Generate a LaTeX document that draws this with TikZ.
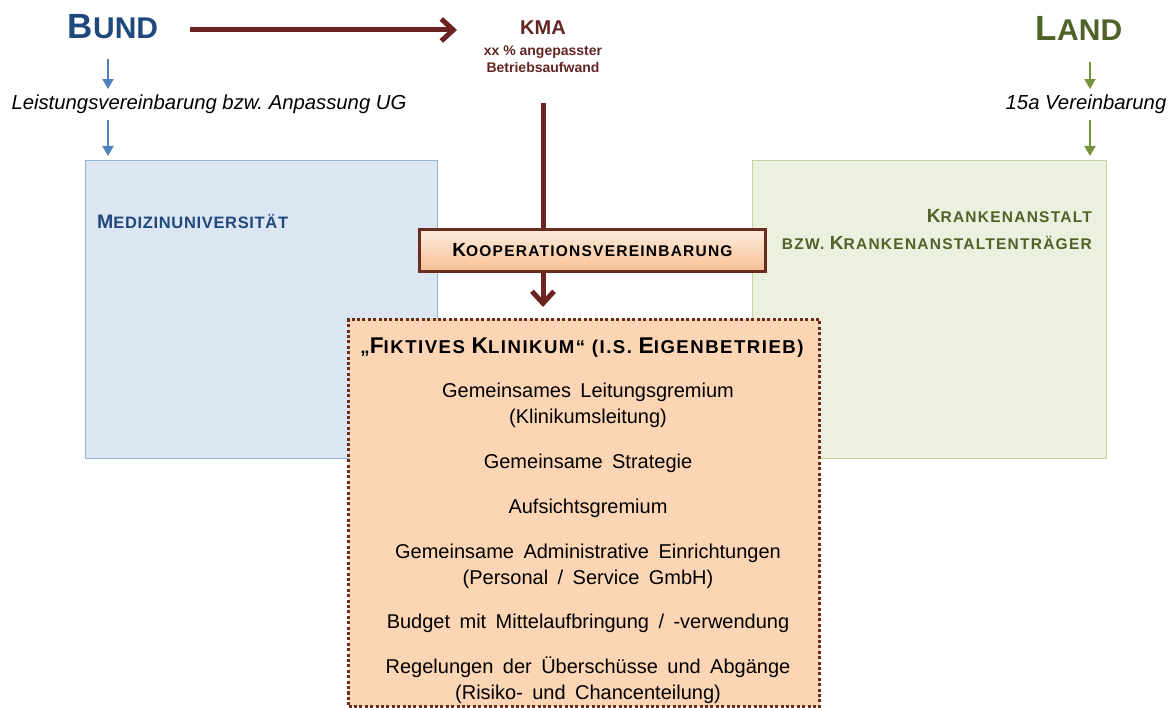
\documentclass[tikz,border=0pt]{standalone}
\usepackage{fontspec}
\setmainfont{Liberation Sans}
\newfontfamily\scf[LetterSpace=8]{Liberation Sans}
\newfontfamily\scfb[LetterSpace=4]{Liberation Sans}
\newfontfamily\itemfont[WordSpace=1.7]{Liberation Sans}
\usetikzlibrary{arrows.meta}
\definecolor{bundblue}{RGB}{31,73,125}
\definecolor{arrowblue}{RGB}{79,129,189}
\definecolor{landgreen}{RGB}{79,98,40}
\definecolor{arrowgreen}{RGB}{118,146,60}
\definecolor{kmared}{RGB}{99,37,35}
\definecolor{maroon}{RGB}{110,35,35}
\definecolor{bluefill}{RGB}{220,230,242}
\definecolor{blueborder}{RGB}{149,179,215}
\definecolor{greenfill}{RGB}{235,241,222}
\definecolor{greenborder}{RGB}{195,214,155}
\definecolor{peach}{RGB}{252,213,181}
\definecolor{peachlight}{RGB}{253,236,222}
\definecolor{peachdark}{RGB}{247,192,146}
\definecolor{brownborder}{RGB}{105,45,32}
\newcommand\Fs[2]{{\fontsize{#1}{#1}\selectfont #2}}
\frenchspacing
\begin{document}
\begin{tikzpicture}[x=1pt,y=-1pt,
  bigarrow/.style={draw=maroon,line width=5pt,-{Straight Barb[length=12pt,width=22pt,line width=5pt]}},
  bigline/.style={draw=maroon,line width=5pt},
  bluearrow/.style={draw=arrowblue,line width=1.8pt,-{Triangle[length=10pt,width=11pt]}},
  greenarrow/.style={draw=arrowgreen,line width=1.8pt,-{Triangle[length=10pt,width=11pt]}},
  sidebox/.style={anchor=north west,inner sep=0pt,line width=1pt},
  itemtext/.style={anchor=base,font=\itemfont\fontsize{20}{20}\selectfont},
  emph/.style={anchor=base,font=\itshape\fontsize{20.3}{20.3}\selectfont}]
\useasboundingbox (0,0) rectangle (1172,708);

% side boxes
\node[sidebox,draw=blueborder,fill=bluefill,minimum width=352pt,minimum height=298pt] (mu) at (85,160) {};
\node[sidebox,draw=greenborder,fill=greenfill,minimum width=354pt,minimum height=298pt] (ka) at (752,160) {};

\node[anchor=base west,inner sep=0pt,text=bundblue,font=\scfb\bfseries] (mutext) at (97,229) {\Fs{19.5}{M}\Fs{16.5}{EDIZINUNIVERSITÄT}};
\node[anchor=base east,inner sep=0pt,text=landgreen,font=\scf\bfseries] (katext1) at (1092,223) {\Fs{19}{K}\Fs{15.5}{RANKENANSTALT}};
\node[anchor=base east,inner sep=0pt,text=landgreen,font=\scf\bfseries] (katext2) at (1092,250) {\Fs{15.5}{BZW. }\Fs{19}{K}\Fs{15.5}{RANKENANSTALTENTRÄGER}};

% top labels
\node[anchor=base,inner sep=0pt,text=bundblue,font=\bfseries] (bund) at (113,39) {\Fs{35}{B}\Fs{30}{UND}};
\node[anchor=base,inner sep=0pt,text=landgreen,font=\bfseries] (land) at (1079,41) {\Fs{35}{L}\Fs{30}{AND}};
\node[anchor=base,inner sep=0pt,text=kmared,font=\bfseries\fontsize{20}{20}\selectfont] (kma) at (543,35) {KMA};
\node[anchor=base,inner sep=0pt,text=kmared,font=\bfseries\fontsize{14}{14}\selectfont] (kma2) at (543,56) {xx \% angepasster};
\node[anchor=base,inner sep=0pt,text=kmared,font=\bfseries\fontsize{14}{14}\selectfont] (kma3) at (543,73) {Betriebsaufwand};

\node[emph,inner sep=0pt] (leist) at (209,110) {Leistungsvereinbarung bzw. Anpassung UG};
\node[emph,inner sep=0pt] (lv) at (1086,110) {15a Vereinbarung};

\coordinate (bx) at (108,0);
\coordinate (gx) at (1090,0);
\coordinate (arrY) at (0,30);
\coordinate (mx) at (543,0);

\draw[bluearrow,shorten <=20pt,shorten >=6pt] (bund.base -| bx) -- (leist.north -| bx);
\draw[bluearrow,shorten <=10pt,shorten >=4pt] (leist.base -| bx) -- (mu.north -| bx);
\draw[greenarrow,shorten <=21pt,shorten >=6pt] (land.base -| gx) -- (lv.north -| gx);
\draw[greenarrow,shorten <=10pt,shorten >=4pt] (lv.base -| gx) -- (ka.north -| gx);

\draw[bigarrow,shorten <=32pt,shorten >=63pt] (bund.east |- arrY) -- (kma.west |- arrY);

% Kooperation
\node[draw=brownborder,line width=2.5pt,top color=peachlight,bottom color=peachdark,
  minimum width=346pt,minimum height=42pt,inner sep=0pt,font=\scf\bfseries] (koop) at (592.5,250.5)
  {\Fs{19}{K}\Fs{15.5}{OOPERATIONSVEREINBARUNG}};

\draw[bigline,shorten <=30pt] (kma3.south -| mx) -- (koop.north -| mx);

% Fiktives Klinikum
\node[sidebox,fill=peach,draw=brownborder,line width=3pt,dash pattern=on 3pt off 2.4pt,
  minimum width=471pt,minimum height=387pt] (fik) at (347,318) {};
\draw[bigarrow,shorten >=11pt] (koop.south -| mx) -- (fik.north -| mx);

\node[anchor=base,inner sep=0pt,font=\scf\bfseries] (title) at (582,354)
  {\Fs{18.6}{„}\Fs{22.8}{F}\Fs{18.6}{IKTIVES }\Fs{22.8}{K}\Fs{18.6}{LINIKUM“ (I.S. }\Fs{22.8}{E}\Fs{18.6}{IGENBETRIEB)}};

\node[itemtext] (i1a) at (588,397) {Gemeinsames Leitungsgremium};
\node[itemtext] (i1b) at (588,423) {(Klinikumsleitung)};
\node[itemtext] (i2) at (588,468) {Gemeinsame Strategie};
\node[itemtext] (i3) at (588,513) {Aufsichtsgremium};
\node[itemtext] (i4a) at (588,558) {Gemeinsame Administrative Einrichtungen};
\node[itemtext] (i4b) at (588,584) {(Personal / Service GmbH)};
\node[itemtext] (i5) at (588,628) {Budget mit Mittelaufbringung / -verwendung};
\node[itemtext] (i6a) at (588,673) {Regelungen der Überschüsse und Abgänge};
\node[itemtext] (i6b) at (588,699) {(Risiko- und Chancenteilung)};
\end{tikzpicture}
\end{document}
